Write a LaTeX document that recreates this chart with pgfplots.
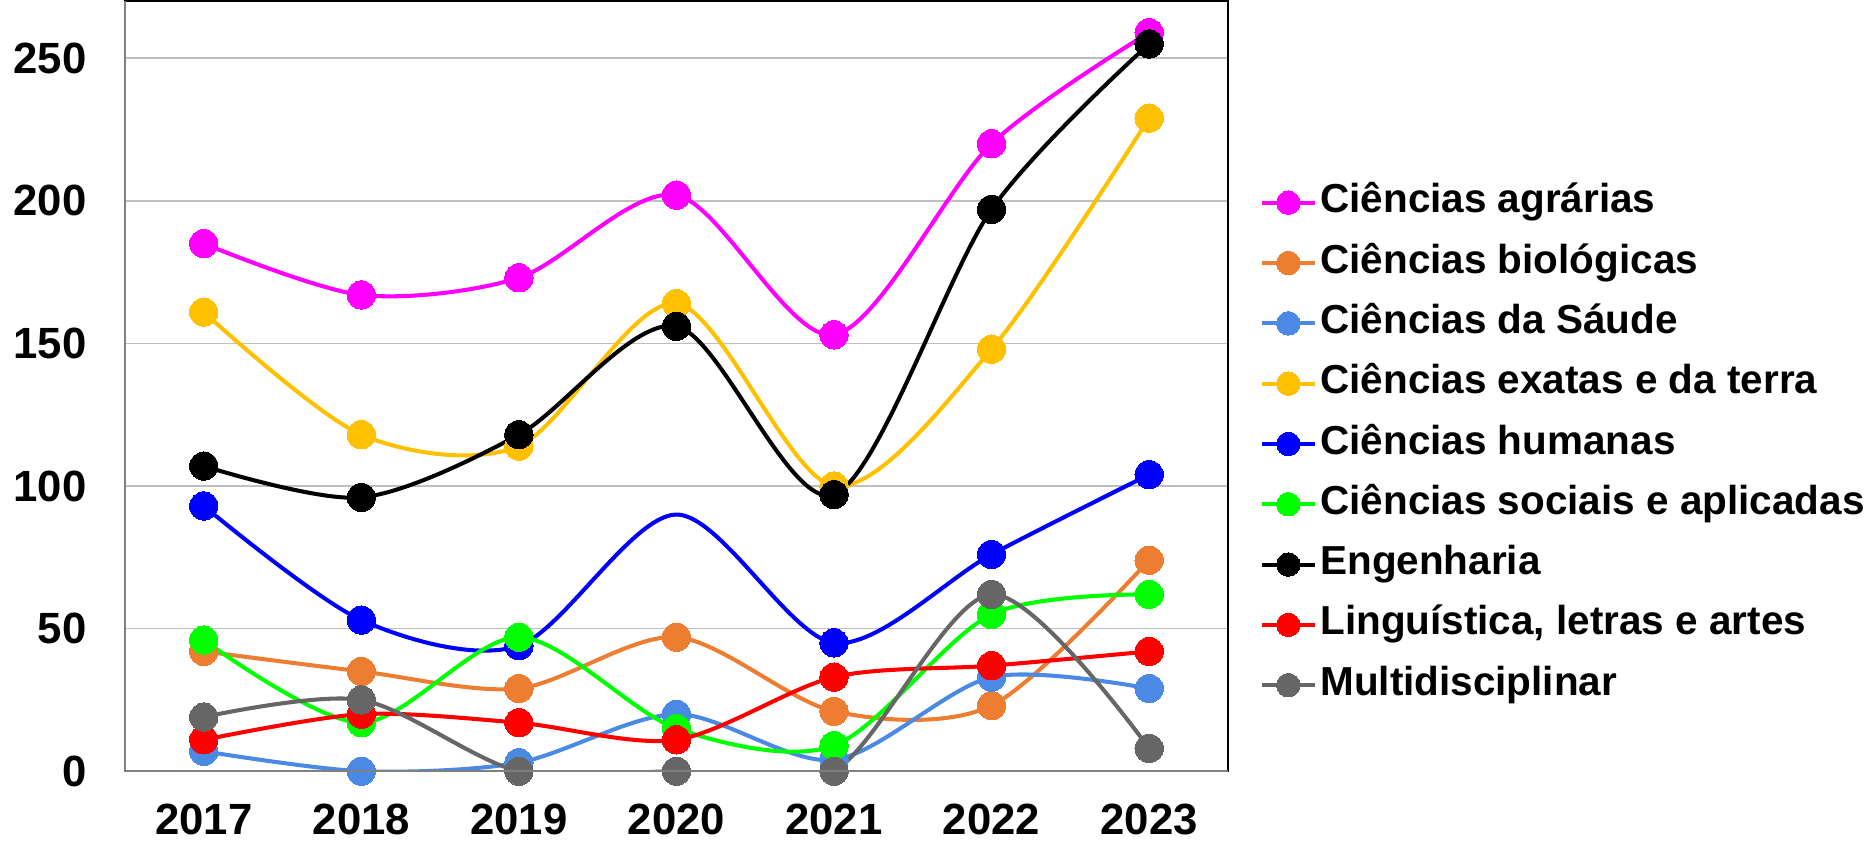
\documentclass[border=0pt]{standalone}
\usepackage{fontspec}
\setmainfont{Liberation Sans}
\usepackage{pgfplots}
\usepackage{pgfplotstable}
\pgfplotsset{compat=1.18}

\definecolor{cagr}{RGB}{255,0,255}
\definecolor{cbio}{RGB}{237,125,49}
\definecolor{csau}{RGB}{74,137,228}
\definecolor{cexa}{RGB}{255,192,0}
\definecolor{chum}{RGB}{0,0,255}
\definecolor{csoc}{RGB}{0,255,0}
\definecolor{ceng}{RGB}{0,0,0}
\definecolor{cling}{RGB}{255,0,0}
\definecolor{cmul}{RGB}{102,102,102}

\pgfplotstableread{
year agr bio sau exa hum soc eng ling mul
2017 185 42  7 161  93 46 107 11 19
2018 167 35  0 118  53 17  96 20 25
2019 173 29  3 114  44 47 118 17  0
2020 202 47 20 164  90 15 156 11  0
2021 153 21  4 100  45  9  97 33  0
2022 220 23 33 148  76 55 197 37 62
2023 259 74 29 229 104 62 255 42  8
}\dados

\pgfplotsset{
  serie/.style={color=#1, line width=1pt, smooth, tension=0.5,
    mark=*, mark size=3.5pt, mark options={line width=0pt, fill=#1, draw=#1}},
}

\begin{document}
\begin{tikzpicture}
\begin{axis}[
  scale only axis,
  width=272.5pt, height=190.25pt,
  xmin=2016.5, xmax=2023.5,
  ymin=0, ymax=270,
  xtick={2017,2018,...,2023},
  ytick={0,50,...,250},
  ymajorgrids,
  grid style={gray!50, line width=0.4pt},
  major tick length=0pt,
  axis line style={line width=0.6pt},
  tick label style={font=\bfseries\fontsize{10.8}{13}\selectfont},
  /pgf/number format/assume math mode=true,
  /pgf/number format/set thousands separator={},
  yticklabel style={xshift=-6pt},
  xticklabel style={yshift=-4.6pt},
  legend cell align=left,
  legend style={draw=none, fill=none,
    at={(1.028,0.425)}, anchor=west,
    font=\bfseries\fontsize{10}{12}\selectfont,
    row sep=3.3pt, inner sep=0pt,
    nodes={inner sep=0.8pt, text height=0.75em, text depth=0.25em}},
  legend image code/.code={
    \draw[#1, mark indices={2}, mark size=2.9pt]
      plot coordinates {(0pt,0pt) (6.6pt,0pt) (13.2pt,0pt)};},
]
\addplot[serie=cagr] table[x=year, y=agr] {\dados};
\addlegendentry{Ciências agrárias}
\addplot[serie=cbio] table[x=year, y=bio] {\dados};
\addlegendentry{Ciências biológicas}
\addplot[serie=csau] table[x=year, y=sau] {\dados};
\addlegendentry{Ciências da Sáude}
\addplot[serie=cexa] table[x=year, y=exa] {\dados};
\addlegendentry{Ciências exatas e da terra}
\addplot[serie=chum, mark indices={1,2,3,5,6,7}] table[x=year, y=hum] {\dados};
\addlegendentry{Ciências humanas}
\addplot[serie=csoc] table[x=year, y=soc] {\dados};
\addlegendentry{Ciências sociais e aplicadas}
\addplot[serie=ceng] table[x=year, y=eng] {\dados};
\addlegendentry{Engenharia}
\addplot[serie=cling] table[x=year, y=ling] {\dados};
\addlegendentry{Linguística, letras e artes}
\addplot[serie=cmul] table[x=year, y=mul] {\dados};
\addlegendentry{Multidisciplinar}
\end{axis}
\draw[gray, line width=0.6pt] (current axis.north west) -- (current axis.south west) -- (current axis.south east);
\end{tikzpicture}
\end{document}
